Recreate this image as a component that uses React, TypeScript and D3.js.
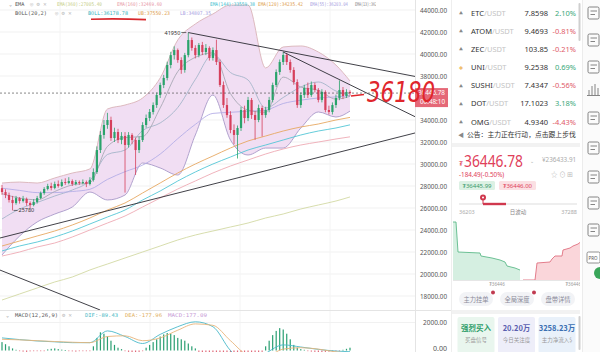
import * as d3 from 'd3'

// ---- main chart data: [open, high, low, close] per candle ----
const candles: [number, number, number, number][] = [
  [27800, 28100, 27200, 27450], [27450, 27700, 26900, 27180], [27180, 27400, 26500, 26730], [26730, 27100, 25780, 26450],
  [26450, 27100, 26300, 26900], [26900, 27000, 26400, 26640], [26640, 27100, 26500, 26820], [26820, 26950, 26200, 26450],
  [26450, 26600, 26000, 26270], [26270, 26800, 26150, 26550], [26550, 27100, 26400, 26900], [26900, 27500, 26800, 27360],
  [27360, 27900, 27200, 27730], [27730, 28200, 27600, 28000], [28000, 28300, 27600, 27820], [27820, 28400, 27700, 28180],
  [28180, 28500, 27850, 28000], [28000, 28600, 27900, 28360], [28360, 28700, 28100, 28270], [28270, 28800, 28150, 28450],
  [28450, 28600, 28000, 28180], [28180, 28550, 28050, 28360], [28360, 28500, 28100, 28270], [28270, 28600, 28150, 28360],
  [28360, 28500, 27900, 28180], [28180, 28800, 28050, 28550], [28550, 29600, 28400, 29270], [29270, 31600, 29100, 31270],
  [31270, 33000, 31000, 32640], [32640, 34000, 32300, 33545], [33545, 34650, 33200, 34000], [34000, 34300, 32100, 32360],
  [32360, 33300, 32000, 32910], [32910, 33200, 31900, 32180], [32180, 32900, 31800, 32550], [32550, 32900, 27400, 31730],
  [31730, 32900, 31500, 32640], [32640, 32800, 31800, 32180], [32180, 32400, 29000, 31270], [31270, 32500, 31000, 32180],
  [32180, 33800, 32000, 33545], [33545, 34500, 33300, 34180], [34180, 35000, 33900, 34730], [34730, 35600, 34500, 35360],
  [35360, 36500, 35100, 36270], [36270, 37400, 36000, 37180], [37180, 38100, 36900, 37820], [37820, 39300, 37600, 39000],
  [39000, 40200, 38700, 39900], [39900, 40700, 39500, 40360], [40360, 40500, 39200, 39450], [39450, 39700, 38200, 38550],
  [38550, 40100, 38300, 39900], [39900, 41950, 39700, 41270], [41270, 41500, 40300, 40550], [40550, 40800, 39600, 39900],
  [39900, 41000, 39700, 40820], [40820, 41100, 39900, 40180], [40180, 40900, 39900, 40550], [40550, 40700, 39400, 39640],
  [39640, 40600, 39400, 40360], [40360, 41300, 39000, 39270], [39270, 39500, 37000, 37180], [37180, 37500, 35100, 35360],
  [35360, 36000, 34200, 34450], [34450, 34800, 32800, 33090], [33090, 33600, 31800, 32640], [32640, 33500, 30500, 33270],
  [33270, 35200, 33000, 34910], [34910, 35300, 33700, 34180], [34180, 36100, 33900, 35820], [35820, 36000, 34100, 34450],
  [34450, 34800, 32200, 34000], [34000, 35400, 33800, 35090], [35090, 35300, 32500, 34450], [34450, 35200, 34200, 34910],
  [34910, 36100, 34700, 35820], [35820, 37400, 35600, 37180], [37180, 38600, 37000, 38360], [38360, 39500, 38100, 39270],
  [39270, 40200, 39000, 39910], [39910, 40100, 39000, 39270], [39270, 39500, 38300, 38550], [38550, 38800, 37200, 37450],
  [37450, 37700, 35100, 35360], [35360, 36500, 35100, 36270], [36270, 37200, 36000, 36910], [36910, 37400, 36000, 36270],
  [36270, 37500, 36100, 37180], [37180, 37400, 36500, 36730], [36730, 36900, 35600, 35820], [35820, 36800, 35600, 36550],
  [36550, 36700, 34700, 34910], [34910, 35300, 34500, 34730], [34730, 35600, 34500, 35360], [35360, 36300, 35100, 36000],
  [36000, 37600, 35800, 36730], [36730, 37000, 35900, 36180], [36180, 36800, 36000, 36550], [36550, 36700, 36200, 36447],
]

// indicator lines, read at these candle indices
const sampleIdx = [0, 5, 10, 15, 20, 25, 30, 35, 40, 45, 50, 55, 60, 65, 70, 75, 80, 85, 90, 95, 99]
const bollUpper = [28270, 28360, 28270, 28730, 29180, 29550, 35000, 35360, 36000, 37820, 41270, 42730, 43640, 44450, 44450, 38730, 40640, 40730, 40180, 39000, 37550]
const bollMid = [25000, 25905, 26500, 27090, 27635, 28500, 30865, 31270, 33045, 33730, 35135, 37685, 39955, 38315, 37635, 35090, 36045, 37000, 37455, 36635, 36180]
const bollLower = [21730, 23450, 24730, 25450, 26090, 27450, 26730, 27180, 30090, 29640, 29000, 32640, 36270, 32180, 30820, 31450, 31450, 33270, 34730, 34270, 34810]
const ema13 = [27300, 26900, 26750, 27500, 28100, 28300, 31600, 32400, 32500, 35100, 38400, 39700, 40100, 36400, 34900, 34700, 37900, 37000, 36700, 35900, 36150]
const ema55 = [27800, 27600, 27400, 27400, 27500, 27700, 28600, 29300, 29900, 30900, 32300, 33600, 34600, 34700, 34800, 34900, 35500, 35800, 36000, 36100, 36200]
const ema120 = [22545, 23000, 23455, 23909, 24455, 25091, 25818, 26455, 27364, 28273, 29182, 30000, 30727, 31455, 32091, 32545, 33000, 33364, 33636, 34000, 34235]
const ema144 = [22091, 22545, 22909, 23364, 23909, 24545, 25182, 25818, 26727, 27545, 28455, 29273, 30000, 30636, 31273, 31727, 32182, 32636, 33000, 33273, 33559]
const ema160 = [21636, 22000, 22455, 22818, 23364, 24000, 24636, 25273, 26091, 26909, 27727, 28455, 29182, 29818, 30364, 30909, 31364, 31727, 32000, 32273, 32470]
const ema360 = [17636, 18182, 18727, 19273, 19727, 20364, 20909, 21455, 22000, 22545, 23091, 23545, 23909, 24273, 24636, 25091, 25455, 25909, 26273, 26636, 27005]

// trend lines drawn on the chart: [candle index, price]
const trendLines: [number, number][][] = [
  [[53, 41950], [117.5, 37960]],
  [[80, 40180], [117.5, 34300]],
  [[-0.6, 23270], [117.5, 32820]],
  [[-0.6, 20360], [27.9, 16730]],
]

const priceTicks = [44000, 42000, 40000, 38000, 34000, 32000, 30000, 28000, 26000, 24000, 22000, 20000, 18000]
const lastPrice = 36446.78
const highMark = { i: 53, price: 41950 }
const lowMark = { i: 3, price: 25780 }

// MACD panel
const difLine = [900, 780, 680, 620, 560, 560, 1400, 1000, 500, 1150, 1700, 2050, 1700, 0, -900, -200, 400, 250, 80, -40, -89]
const deaLine = [800, 760, 700, 640, 590, 560, 1000, 1050, 700, 900, 1450, 1900, 1800, 700, -300, -400, 100, 200, 100, -100, -178]
const macdHist = [
  600, 450, 300, 150, 50,
  -50, -80, -100, -60, -30, -50, -40, -20,
  80, 120, 150, 100, 60, 30,
  -30, -60, -80, -50, -40, -20, -10,
  300, 900, 1300, 1200, 1000, 700, 400,
  200, 100, -50, -100, -200, -150, -100, -50,
  200, 400, 600, 800, 1000, 1150, 1250, 1200, 1100, 900, 800, 700, 500, 300, 150,
  -100, -200, -300, -500, -700, -900, -1100, -1300, -1400, -1400, -1300, -1100, -900, -800, -600, -500, -400, -200, -100,
  300, 700, 1100, 1400, 1600, 1500, 1200, 800, 400,
  200, 100, 50, -50, -80, -100, -150, -120, -100, -80, -60, -40,
  -20, 50, 120, 200,
]

// right panel
const coinNames = ['ETC', 'ATOM', 'ZEC', 'UNI', 'SUSHI', 'DOT', 'OMG']
const coinPrices = ['7.8598', '9.4693', '103.85', '9.2538', '7.4347', '17.1023', '4.9340']
const coinChanges = [2.10, -0.81, -0.21, 0.69, -0.56, 3.18, -4.43]

const bidLevels = [0, 3, 5, 27, 28, 39, 47, 52, 54, 62, 67]
const bidVolumes = [58, 58, 28, 27, 24, 22, 20, 18, 14, 12, 10]
const askLevels = [70, 82, 84, 97, 99, 102, 109, 110, 117, 120, 125, 130]
const askVolumes = [0, 0, 17, 18, 21, 24, 24, 30, 32, 34, 36, 40]

const pillLabels = ['主力挂单', '全局深度', '盘带详情']
const statValues = ['强烈买入', '20.20万', '3258.23万']
const statLabels = ['买盘信号', '今日关注度', '主力净流入$']
const statColors = ['#2f9e6a', '#5b5fb0', '#3a6fb2']
const statFills = ['#e9f6ee', '#eeeef9', '#e9f1fa']

const UP = '#2aa36b'
const DOWN = '#d6405c'
const MONO = '"DejaVu Sans Mono", monospace'
const SANS = '"Noto Sans", "Noto Sans CJK SC", sans-serif'
const CJK = '"Noto Sans CJK SC", "Noto Sans", sans-serif'

export default function App() {
  const x = d3.scaleLinear().domain([0, 99]).range([2, 350])
  const y = d3.scaleLinear().domain([18000, 44000]).range([296, 10])
  const yM = d3.scaleLinear().domain([0, 2000]).range([350.5, 322.5])

  const series = (vals: number[], ys: d3.ScaleLinear<number, number>) =>
    d3.line<number>().x((_, k) => x(sampleIdx[k])).y(v => ys(v)).curve(d3.curveMonotoneX)(vals) || ''
  const band = d3.area<number>()
    .x((_, k) => x(sampleIdx[k]))
    .y0((_, k) => y(bollLower[k]))
    .y1(v => y(v))
    .curve(d3.curveMonotoneX)(bollUpper) || ''

  const depthX = d3.scaleLinear().domain([0, 130]).range([453, 583])
  const depthY = d3.scaleLinear().domain([0, 60]).range([280, 220])
  const bidArea = d3.area<number>().x((_, k) => depthX(bidLevels[k])).y0(depthY(0)).y1(v => depthY(v))(bidVolumes) || ''
  const bidLine = d3.line<number>().x((_, k) => depthX(bidLevels[k])).y(v => depthY(v))(bidVolumes) || ''
  const askArea = d3.area<number>().x((_, k) => depthX(askLevels[k])).y0(depthY(0)).y1(v => depthY(v))(askVolumes) || ''
  const askLine = d3.line<number>().x((_, k) => depthX(askLevels[k])).y(v => depthY(v))(askVolumes) || ''

  const rowY = d3.scalePoint<string>().domain(coinNames).range([13, 122])
  const pillX = d3.scalePoint<string>().domain(pillLabels).range([476, 558])
  const statX = d3.scalePoint<number>().domain([0, 1, 2]).range([476, 557])
  const lastY = y(lastPrice)

  const emaDefs = [
    { vals: ema360, color: '#d2d9a4' },
    { vals: ema160, color: '#eeaab4' },
    { vals: ema144, color: '#53c6d6' },
    { vals: ema120, color: '#e6a862' },
    { vals: ema55, color: '#b4aee6' },
    { vals: ema13, color: '#a8a8b4' },
  ]

  return (
    <svg width={600} height={352} style={{ position: 'absolute', left: 0, top: 0, background: '#fff' }}>
      <defs>
        <clipPath id="main"><rect x={0} y={0} width={415} height={310} /></clipPath>
        <clipPath id="macd"><rect x={0} y={318} width={415} height={34} /></clipPath>
        <clipPath id="legend"><rect x={0} y={0} width={376} height={20} /></clipPath>
        <clipPath id="panel"><rect x={452} y={0} width={128} height={352} /></clipPath>
      </defs>
      <rect width={600} height={352} fill="#fff" />

      {/* grid */}
      {priceTicks.map(t => (
        <line key={t} x1={0} x2={415} y1={y(t)} y2={y(t)} stroke="#f1f1f1" />
      ))}
      {[60, 150, 240, 330].map(v => (
        <line key={v} x1={v} x2={v} y1={0} y2={352} stroke="#f4f4f4" />
      ))}
      <line x1={0} x2={415} y1={yM(2000)} y2={yM(2000)} stroke="#f1f1f1" />

      <g clipPath="url(#main)">
        <path d={band} fill="#f1def3" stroke="none" />
        <path d={series(bollUpper, y)} fill="none" stroke="#d9b3b8" strokeWidth={0.9} />
        <path d={series(bollLower, y)} fill="none" stroke="#a898c8" strokeWidth={0.9} />
        <path d={series(bollMid, y)} fill="none" stroke="#9ab0c4" strokeWidth={0.8} />
        {emaDefs.map((e, k) => (
          <path key={k} d={series(e.vals, y)} fill="none" stroke={e.color} strokeWidth={0.9} />
        ))}
        {/* candles */}
        {candles.map(([o, h, l, c], i) => {
          const col = c >= o ? UP : DOWN
          const top = y(Math.max(o, c))
          const hgt = Math.max(0.8, Math.abs(y(o) - y(c)))
          return (
            <g key={i}>
              <line x1={x(i)} x2={x(i)} y1={y(h)} y2={y(l)} stroke={col} strokeWidth={0.8} />
              <rect x={x(i) - 1.1} y={top} width={2.2} height={hgt} fill={col} />
            </g>
          )
        })}
        {trendLines.map((tl, k) => (
          <line key={k} x1={x(tl[0][0])} y1={y(tl[0][1])} x2={x(tl[1][0])} y2={y(tl[1][1])} stroke="#2b2b33" strokeWidth={0.9} />
        ))}
        <line x1={0} x2={415} y1={lastY} y2={lastY} stroke="#555" strokeWidth={0.7} strokeDasharray="2,2" />
        {/* high / low marks */}
        <line x1={x(highMark.i) - 7} x2={x(highMark.i) - 2} y1={y(highMark.price)} y2={y(highMark.price)} stroke="#333" strokeWidth={0.7} />
        <text x={x(highMark.i) - 8} y={y(highMark.price) + 2} fontSize={5.5} fill="#333" textAnchor="end" fontFamily={SANS}>{highMark.price}</text>
        <line x1={x(lowMark.i) + 1} x2={x(lowMark.i) + 5} y1={y(lowMark.price)} y2={y(lowMark.price)} stroke="#333" strokeWidth={0.7} />
        <text x={x(lowMark.i) + 6} y={y(lowMark.price) + 2} fontSize={5.5} fill="#333" fontFamily={SANS}>{lowMark.price}</text>
      </g>

      {/* legend rows */}
      <g clipPath="url(#legend)" fontFamily={MONO} fontSize={5.2}>
        <text x={9} y={6} fill="#999">⌄</text>
        <text x={15} y={6} fill="#555">EMA</text>
        <text x={30} y={6} fill="#bbb" fontSize={5.5}>◎ ⚙ ✕</text>
        <text x={57} y={6} fill="#c8d08a" textLength={45} lengthAdjust="spacingAndGlyphs">EMA(360):27005.40</text>
        <text x={117} y={6} fill="#e89aa8" textLength={45} lengthAdjust="spacingAndGlyphs">EMA(160):32469.60</text>
        <text x={210} y={6} fill="#3fc0d0" textLength={45} lengthAdjust="spacingAndGlyphs">EMA(144):33559.38</text>
        <text x={258} y={6} fill="#e0a050" textLength={45} lengthAdjust="spacingAndGlyphs">EMA(120):34235.42</text>
        <text x={310} y={6} fill="#a9a2e2" textLength={38} lengthAdjust="spacingAndGlyphs">EMA(55):36203.04</text>
        <text x={355} y={6} fill="#888" textLength={26} lengthAdjust="spacingAndGlyphs">EMA(13):36203</text>
        <text x={15} y={15} fill="#555" textLength={32} lengthAdjust="spacingAndGlyphs">BOLL(20,2)</text>
        <text x={55} y={15} fill="#bbb" fontSize={5.5}>◎ ⚙ ✕</text>
        <text x={88} y={15} fill="#36b4c0" textLength={40} lengthAdjust="spacingAndGlyphs">BOLL:36178.78</text>
        <text x={138} y={15} fill="#e0a050" textLength={32} lengthAdjust="spacingAndGlyphs">UB:37550.23</text>
        <text x={180} y={15} fill="#a9a2e2" textLength={31} lengthAdjust="spacingAndGlyphs">LB:34807.35</text>
      </g>
      <path d="M91,19.2 Q118,18.4 146,19.6" fill="none" stroke="#d8282c" strokeWidth={1.6} />

      {/* panel separators */}
      <line x1={0} x2={451} y1={310.5} y2={310.5} stroke="#e4e4e4" />
      <line x1={415.5} x2={415.5} y1={0} y2={352} stroke="#e4e4e4" />
      <line x1={451.5} x2={451.5} y1={0} y2={352} stroke="#eeeeee" />

      {/* MACD */}
      <g clipPath="url(#macd)">
        {macdHist.map((v, i) => (
          <rect key={i} x={x(i) - 0.6} y={Math.min(yM(v), yM(0))} width={1.2}
            height={Math.max(0.7, Math.abs(yM(v) - yM(0)))} fill={v >= 0 ? '#2a9f72' : '#e06878'} />
        ))}
        <path d={series(difLine, yM)} fill="none" stroke="#49b9c9" strokeWidth={0.9} />
        <path d={series(deaLine, yM)} fill="none" stroke="#e8b47a" strokeWidth={0.9} />
      </g>
      <g fontFamily={MONO} fontSize={5.2}>
        <text x={6} y={317} fill="#999">⌄</text>
        <text x={15} y={317} fill="#555" textLength={43} lengthAdjust="spacingAndGlyphs">MACD(12,26,9)</text>
        <text x={62} y={317} fill="#bbb" fontSize={5.5}>⚙ ✕</text>
        <text x={85} y={317} fill="#3fb8c4" textLength={33} lengthAdjust="spacingAndGlyphs">DIF:-89.43</text>
        <text x={125} y={317} fill="#dfb060" textLength={37} lengthAdjust="spacingAndGlyphs">DEA:-177.96</text>
        <text x={168} y={317} fill="#c79ad6" textLength={39} lengthAdjust="spacingAndGlyphs">MACD:177.09</text>
      </g>

      {/* price axis */}
      <g fontFamily={SANS} fontSize={7} fill="#555">
        {priceTicks.map(t => (
          <text key={t} x={447} y={y(t) + 2.5} textAnchor="end" textLength={27} lengthAdjust="spacingAndGlyphs">{t.toFixed(2)}</text>
        ))}
        <text x={447} y={yM(2000) + 2.5} textAnchor="end" textLength={24} lengthAdjust="spacingAndGlyphs">2000.00</text>
        <text x={447} y={351.3} textAnchor="end" textLength={14} lengthAdjust="spacingAndGlyphs">0.00</text>
      </g>
      <rect x={415} y={lastY - 5} width={33} height={19} fill="#e56877" />
      <text x={445} y={lastY + 2.2} fontFamily={SANS} fontSize={6.5} fill="#fff" textAnchor="end" textLength={27} lengthAdjust="spacingAndGlyphs">{lastPrice}</text>
      <text x={445} y={lastY + 11} fontFamily={SANS} fontSize={6.5} fill="#fff" textAnchor="end" textLength={25} lengthAdjust="spacingAndGlyphs">00:48:10</text>

      {/* handwriting */}
      <line x1={351} x2={364} y1={96} y2={94.5} stroke="#e0262c" strokeWidth={1.4} />
      <text x={367} y={102} fill="#e0262c" fontSize={29} fontStyle="italic"
        fontFamily='"DejaVu Sans ExtraLight", "DejaVu Sans"' fontWeight={200} textLength={68} lengthAdjust="spacingAndGlyphs">36180</text>

      {/* right panel */}
      <g clipPath="url(#panel)">
        {coinNames.map((n, k) => {
          const ry = rowY(n) as number
          const ch = coinChanges[k]
          return (
            <g key={n} fontFamily={SANS} fontSize={7.5}>
              <text x={459} y={ry + 2} fontSize={4} fill={n === 'UNI' ? '#f0c070' : '#888'}>{n === 'UNI' ? '◆' : '▲'}</text>
              <text x={471} y={ry + 2.5} fill="#333">{n}<tspan fill="#c4c4c4">/USDT</tspan></text>
              <text x={548} y={ry + 2.5} fill="#333" textAnchor="end">{coinPrices[k]}</text>
              <text x={576} y={ry + 2.5} fill={ch >= 0 ? '#3aa87a' : '#e05a6a'} textAnchor="end">{ch.toFixed(2)}%</text>
            </g>
          )
        })}
        <rect x={452} y={126} width={128} height={17} fill="#fff" />
        <text x={458} y={136.5} fontSize={6} fill="#888" fontFamily={SANS}>◀</text>
        <text x={467} y={136.5} fontSize={6.8} fill="#333" fontFamily={CJK}>公告：主力正在行动，点击跟上步伐</text>
        <rect x={452} y={143} width={128} height={4} fill="#f2f2f2" />

        <text x={459} y={166} fontSize={7} fill="#e0405a" fontFamily={SANS}>₮</text>
        <text x={464} y={167} fontSize={16} fill="#e0405a" fontFamily={SANS} textLength={59} lengthAdjust="spacingAndGlyphs">{lastPrice}</text>
        <text x={530} y={163} fontSize={5} fill="#aaa" fontFamily={SANS}>⌄</text>
        <text x={542} y={162} fontSize={6.3} fill="#aaa" fontFamily={SANS}>¥236433.91</text>
        <text x={459} y={177} fontSize={6.3} fill="#e0405a" fontFamily={SANS}>-184.49(-0.50%)</text>
        <text x={551} y={177} fontSize={6.5} fill="#bbb" fontFamily={SANS}>☆ ⊙ ⊞</text>
        <rect x={459} y={181} width={36} height={9} rx={1.5} fill="#dcf1e4" />
        <text x={477} y={188} fontSize={6} fill="#3a9a6a" textAnchor="middle" fontFamily={SANS}>₮36445.99</text>
        <rect x={499} y={181} width={37} height={9} rx={1.5} fill="#fbe0e3" />
        <text x={517.5} y={188} fontSize={6} fill="#e0405a" textAnchor="middle" fontFamily={SANS}>₮36446.00</text>

        <line x1={459} x2={577} y1={204} y2={204} stroke="#e8e8e8" strokeWidth={1.6} />
        <line x1={483} x2={506} y1={204} y2={204} stroke="#d0384e" strokeWidth={2.4} />
        <line x1={483} x2={483} y1={198} y2={204} stroke="#d0384e" strokeWidth={1} />
        <circle cx={483} cy={197.5} r={3} fill="#d0384e" />
        <circle cx={483} cy={197.5} r={1} fill="#fff" />
        <text x={459} y={214} fontSize={5.5} fill="#aaa" fontFamily={SANS}>36203</text>
        <text x={518} y={214} fontSize={5.5} fill="#888" textAnchor="middle" fontFamily={CJK}>日波动</text>
        <text x={577} y={214} fontSize={5.5} fill="#aaa" textAnchor="end" fontFamily={SANS}>37288</text>

        <path d={bidArea} fill="#d5efe1" />
        <path d={bidLine} fill="none" stroke="#5dba8a" strokeWidth={0.9} />
        <path d={askArea} fill="#fad6da" />
        <path d={askLine} fill="none" stroke="#e07080" strokeWidth={0.9} />
        <line x1={453} x2={583} y1={280.5} y2={280.5} stroke="#e6e6e6" />
        <text x={497} y={285.5} fontSize={4.5} fill="#999" textAnchor="middle" fontFamily={SANS}>₮36446</text>
        <text x={581} y={285.5} fontSize={4.5} fill="#999" textAnchor="end" fontFamily={SANS}>₮36446</text>

        {pillLabels.map((p, k) => {
          const cx = pillX(p) as number
          return (
            <g key={p}>
              <rect x={cx - 17} y={292} width={34} height={14} rx={7} fill="#f2f3f6" />
              <text x={cx} y={301.5} fontSize={6.3} fill="#8a8a99" textAnchor="middle" fontFamily={CJK}>{p}</text>
              {k < 2 && <circle cx={cx + 17} cy={292.5} r={2} fill="#c03a50" />}
            </g>
          )
        })}
        <rect x={452} y={310} width={128} height={4} fill="#f2f2f2" />
        {statValues.map((v, k) => {
          const cx = statX(k) as number
          return (
            <g key={v}>
              <rect x={cx - 18.5} y={317} width={37} height={36} rx={2} fill={statFills[k]} />
              <text x={cx} y={331} fontSize={7.5} fontWeight="bold" fill={statColors[k]} textAnchor="middle" fontFamily={CJK}>{v}</text>
              <text x={cx} y={341.5} fontSize={5.5} fill="#999" textAnchor="middle" fontFamily={CJK}>{statLabels[k]}</text>
            </g>
          )
        })}
      </g>
      <rect x={578.5} y={3} width={2} height={38} rx={1} fill="#cfcfcf" />
      <rect x={578.5} y={316} width={2} height={34} rx={1} fill="#cfcfcf" />

      {/* icon strip */}
      <rect x={582} y={0} width={18} height={352} fill="#fbfbfb" />
      <line x1={582.5} x2={582.5} y1={0} y2={352} stroke="#ececec" />
      {[13, 40, 67, 118, 148, 177, 203, 230].map((cy, k) => (
        <g key={k} stroke="#777" strokeWidth={0.9} fill="none">
          <rect x={588} y={cy - 6} width={11} height={12} rx={1.5} />
          <line x1={590.5} x2={597} y1={cy - 2} y2={cy - 2} />
          <line x1={590.5} x2={595} y1={cy + 1.5} y2={cy + 1.5} />
        </g>
      ))}
      <g stroke="#777" strokeWidth={0.9}>
        <line x1={589} x2={589} y1={95} y2={90} />
        <line x1={592} x2={592} y1={95} y2={86} />
        <line x1={595} x2={595} y1={95} y2={84} />
        <line x1={598} x2={598} y1={95} y2={88} />
        <line x1={587} x2={600} y1={95.5} y2={95.5} />
      </g>
      <rect x={587} y={252} width={13} height={11} rx={1.5} fill="#fff" stroke="#777" strokeWidth={0.8} />
      <text x={588.5} y={259.5} fontSize={4.5} fill="#555" fontFamily={SANS}>PRO</text>
      <circle cx={600} cy={273} r={6} fill="#3aa65a" />
    </svg>
  )
}
